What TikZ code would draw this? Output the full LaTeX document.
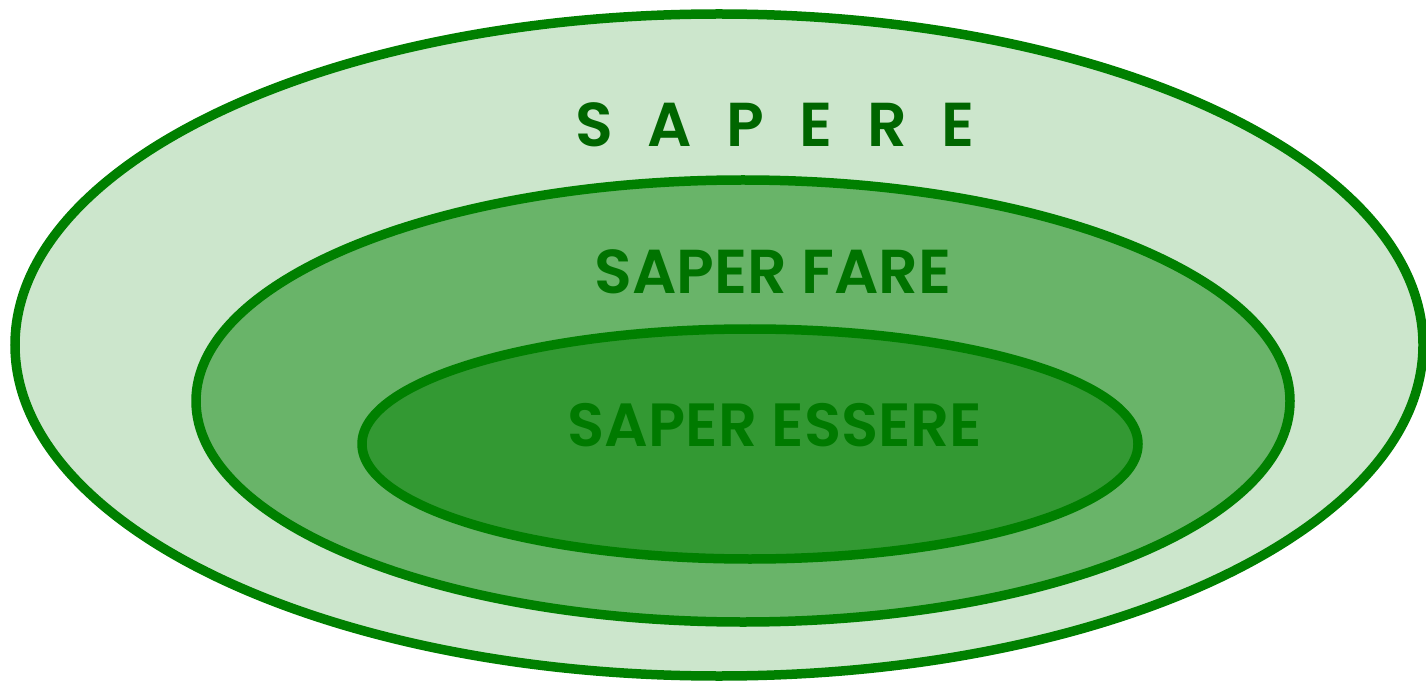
\documentclass[tikz,border=0pt]{standalone}
\usepackage{fontspec}
\setmainfont{Poppins}[UprightFont=* SemiBold,BoldFont=* Bold]
\definecolor{ringline}{HTML}{008000}
\definecolor{outerfill}{HTML}{CCE6CC}
\definecolor{midfill}{HTML}{69B469}
\definecolor{innerfill}{HTML}{339933}
\definecolor{textone}{HTML}{006600}
\definecolor{texttwo}{HTML}{007300}
\definecolor{textthree}{HTML}{007A00}
\begin{document}
\begin{tikzpicture}[x=1pt,y=-1pt,
  ring/.style={draw=ringline,line width=9.5pt},
  label/.style={font=\fontsize{62}{62}\selectfont,inner sep=0pt,anchor=base}]
\useasboundingbox (0,0) rectangle (1426,684);
% three nested levels of knowledge
\draw[ring,fill=outerfill] (719,345) ellipse [x radius=704,y radius=331];
\draw[ring,fill=midfill] (743,401) ellipse [x radius=547,y radius=221];
\draw[ring,fill=innerfill] (750,444) ellipse [x radius=388,y radius=115];
\node[label,text=textone] (sapere) at (775,147) {\addfontfeature{LetterSpace=56}SAPERE};
\node[label,text=texttwo] (fare) at (773,294) {SAPER FARE};
\node[label,text=textthree,font=\fontsize{61}{61}\selectfont] (essere) at (775,446) {SAPER ESSERE};
\end{tikzpicture}
\end{document}
